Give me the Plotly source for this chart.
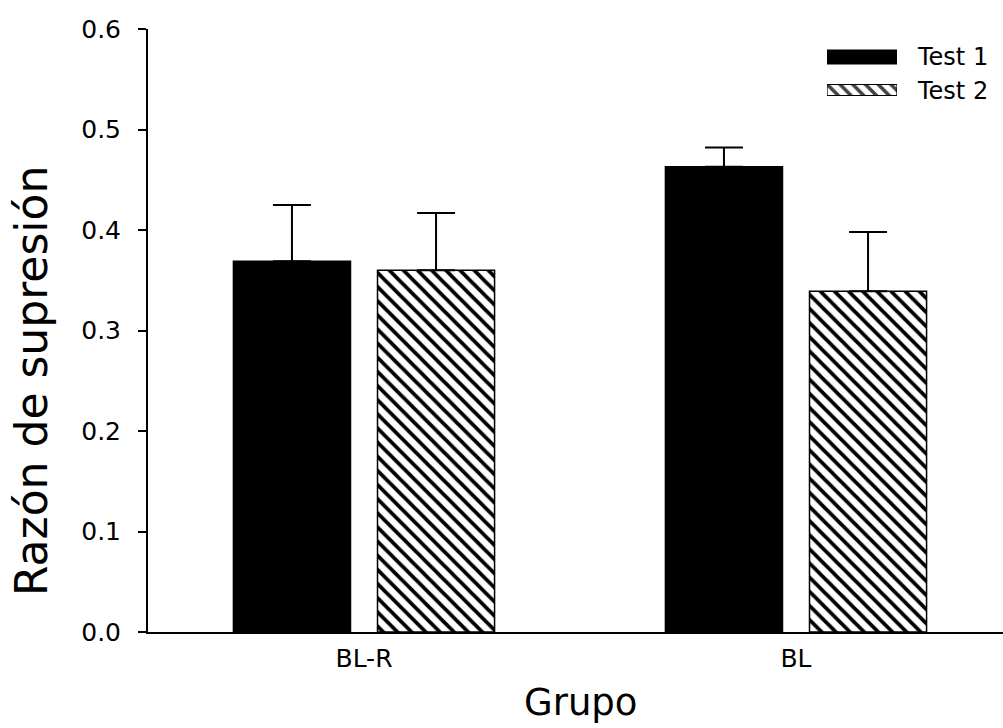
import plotly.graph_objects as go

# Supresión por grupo y test (media + error)
groups = ["BL-R", "BL"]
test1_mean = [0.369, 0.463]
test1_err = [0.056, 0.019]
test2_mean = [0.360, 0.339]
test2_err = [0.057, 0.059]
y_ticks = [0.0, 0.1, 0.2, 0.3, 0.4, 0.5, 0.6]
series_names = ["Test 1", "Test 2"]

W, H = 1003, 728
L, R, T, B = 148, 0, 29, 96
PW, PH = W - L - R, H - T - B
FONT = "DejaVu Sans"
INK = "#000000"


def px_to_paper_x(px):
    return (px - L) / PW


def px_to_paper_y(py):
    return (H - B - py) / PH


fig = go.Figure()

fig.add_trace(go.Bar(
    x=groups, y=test1_mean, name=series_names[0],
    marker=dict(color=INK, line=dict(color=INK, width=1.5)),
    error_y=dict(type="data", array=test1_err, arrayminus=[0] * len(groups),
                 color=INK, thickness=2, width=19),
    showlegend=False,
))
fig.add_trace(go.Bar(
    x=groups, y=test2_mean, name=series_names[1],
    marker=dict(color="white", line=dict(color=INK, width=1.5),
                pattern=dict(shape="\\", fgcolor=INK, fgopacity=1,
                             bgcolor="white", size=10, solidity=0.38,
                             fillmode="overlay")),
    error_y=dict(type="data", array=test2_err, arrayminus=[0] * len(groups),
                 color=INK, thickness=2, width=19),
    showlegend=False,
))

# Legend swatches: wide rectangles drawn on a small helper axis
sw_top, sw_bot = 46, 100
fig.add_trace(go.Bar(
    x=[1, 1], y=[57, 90], width=[14, 11], orientation="h",
    xaxis="x2", yaxis="y2", showlegend=False, hoverinfo="skip",
    marker=dict(color=[INK, "white"], line=dict(color=INK, width=1.2),
                pattern=dict(shape=["", "\\"], fgcolor=INK, fgopacity=1,
                             bgcolor="white", size=9, solidity=0.4,
                             fillmode="overlay")),
))

annotations = []
for name, cy in zip(series_names, [57, 91]):
    annotations.append(dict(
        x=px_to_paper_x(915), y=px_to_paper_y(cy), xref="paper", yref="paper",
        text=name, showarrow=False, xanchor="left", yanchor="middle",
        font=dict(family=FONT, size=24, color=INK),
    ))

annotations.append(dict(
    x=px_to_paper_x(31), y=px_to_paper_y(381), xref="paper", yref="paper",
    text="Razón de supresión", textangle=-90, showarrow=False,
    xanchor="center", yanchor="middle",
    font=dict(family=FONT, size=44, color=INK),
))
annotations.append(dict(
    x=px_to_paper_x(580), y=px_to_paper_y(702), xref="paper", yref="paper",
    text="Grupo", showarrow=False, xanchor="center", yanchor="middle",
    font=dict(family=FONT, size=37, color=INK),
))

span = PW / 432.0  # category spacing of 432 px

fig.update_layout(
    width=W, height=H,
    margin=dict(l=L, r=R, t=T, b=B, pad=0),
    paper_bgcolor="white", plot_bgcolor="white",
    barmode="group", bargap=0.333, bargroupgap=0.1875,
    font=dict(family=FONT, color=INK),
    annotations=annotations,
    xaxis=dict(
        type="category", range=[-0.5, -0.5 + span],
        showline=True, linecolor=INK, linewidth=2,
        showgrid=False, zeroline=False, ticks="",
        tickfont=dict(family=FONT, size=25, color=INK),
        ticklabelstandoff=3,
    ),
    yaxis=dict(
        range=[0, 0.6], tickvals=y_ticks, tickformat=".1f",
        showline=True, linecolor=INK, linewidth=2,
        showgrid=False, zeroline=False,
        ticks="outside", ticklen=8, tickwidth=2, tickcolor=INK,
        tickfont=dict(family=FONT, size=25, color=INK),
        ticklabelstandoff=12,
    ),
    xaxis2=dict(
        domain=[px_to_paper_x(827), px_to_paper_x(897)],
        range=[0, 1], visible=False, anchor="y2", fixedrange=True,
    ),
    yaxis2=dict(
        domain=[px_to_paper_y(sw_bot), px_to_paper_y(sw_top)],
        range=[sw_bot, sw_top], visible=False, anchor="x2", fixedrange=True,
    ),
)

fig.write_html("out.html")
